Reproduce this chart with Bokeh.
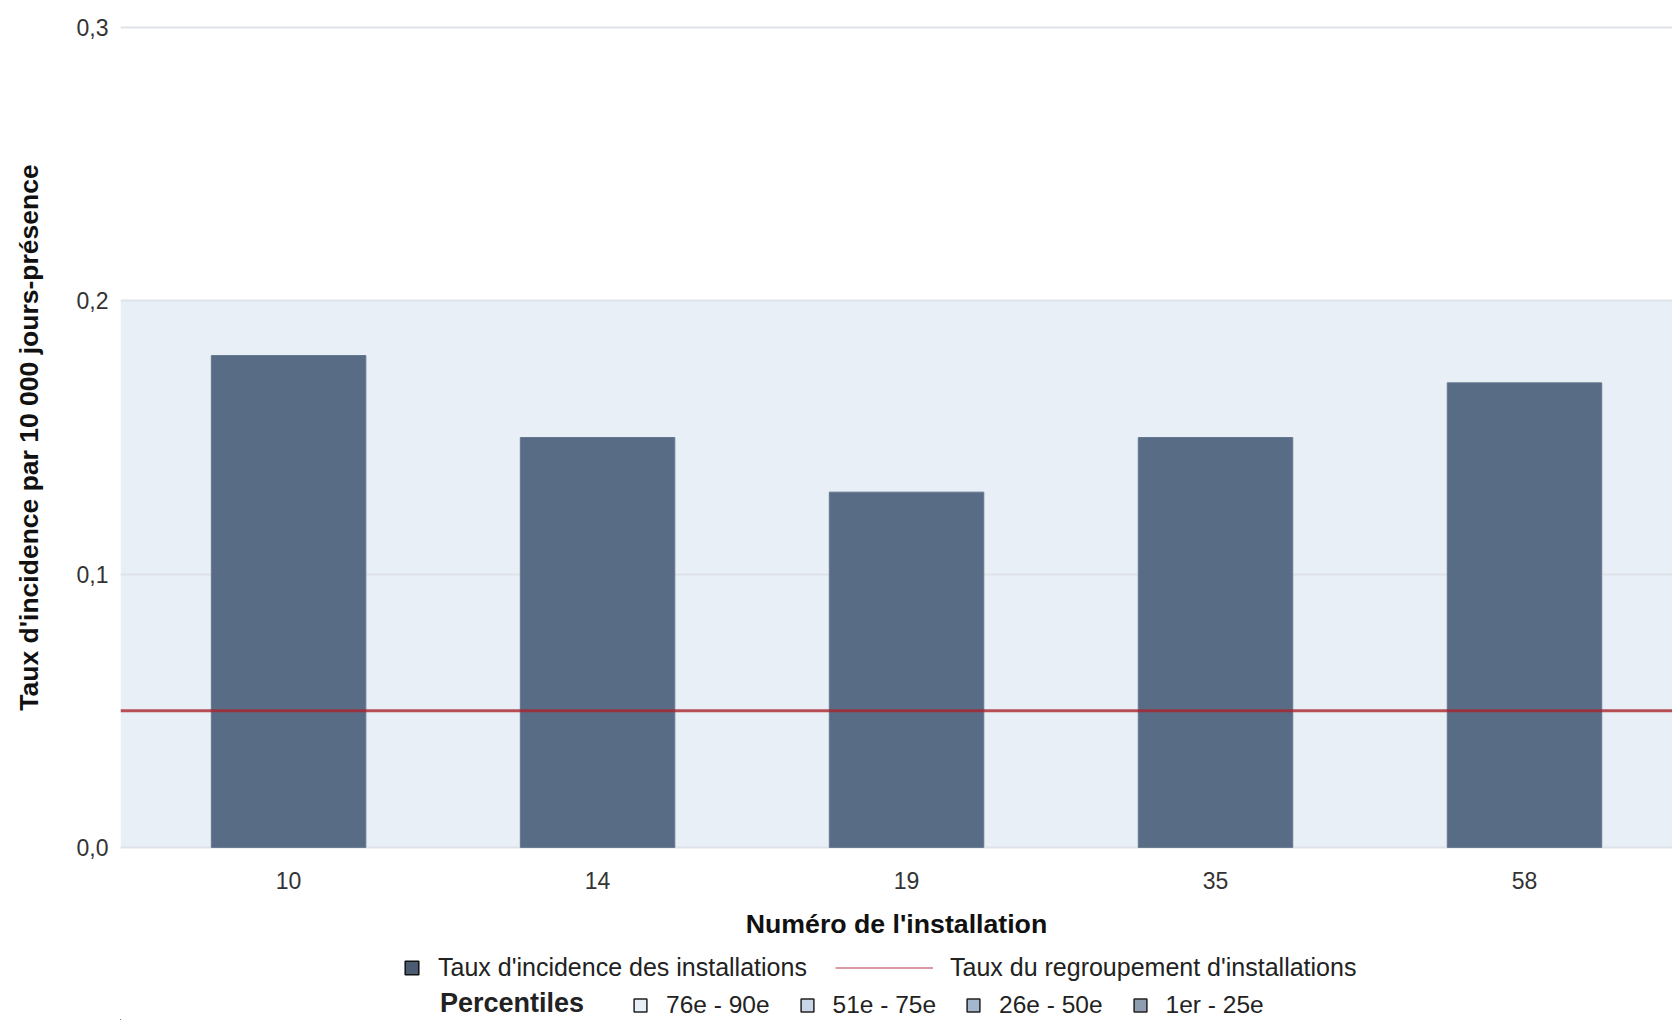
from bokeh.plotting import figure
from bokeh.layouts import column
from bokeh.models import (Range1d, FixedTicker, CustomJSTickFormatter, BoxAnnotation,
                          Span, Legend, LegendItem, ColumnDataSource)
from bokeh.embed import file_html
from bokeh.resources import INLINE

# ---- data ----
installations = ["10", "14", "19", "35", "58"]
taux_installations = [0.18, 0.15, 0.13, 0.15, 0.17]
taux_regroupement = 0.05
y_ticks = [0.0, 0.1, 0.2, 0.3]
percentile_labels = ["76e - 90e", "51e - 75e", "26e - 50e", "1er - 25e"]
percentile_colors = ["#E9EFF7", "#C9D6EA", "#A5B6D0", "#8F9DB2"]
band_lower = 0.0   # 76e - 90e percentile band
band_upper = 0.2

FONT = "Liberation Sans"
TXT = "#222222"
BAR = "#586C85"

x_idx = list(range(len(installations)))
src = ColumnDataSource(dict(x=x_idx, top=taux_installations, label=installations))

# ---------------- main chart ----------------
p = figure(width=1672, height=945, output_backend="svg", toolbar_location=None,
           x_range=Range1d(-0.544, 4.479), y_range=Range1d(-0.0015, 0.3015),
           min_border_left=120, min_border_right=0, min_border_top=23,
           min_border_bottom=94)
p.outline_line_color = None
p.background_fill_color = "white"
p.border_fill_color = "white"

band = BoxAnnotation(bottom=band_lower, top=band_upper, fill_color=percentile_colors[0],
                     fill_alpha=1, line_alpha=0, level="image")
p.add_layout(band)

bars = p.vbar(x="x", top="top", bottom=0, width=0.5, source=src,
              fill_color=BAR, line_color="#66788F", line_width=1)

span = Span(location=taux_regroupement, dimension="width", line_color="#A8262C",
            line_alpha=0.8, line_width=3)
p.add_layout(span)

p.xaxis.ticker = FixedTicker(ticks=x_idx)
p.xaxis.major_label_overrides = {i: c for i, c in zip(x_idx, installations)}
p.yaxis.ticker = FixedTicker(ticks=y_ticks)
p.yaxis.formatter = CustomJSTickFormatter(code="return tick.toFixed(1).replace('.', ',');")
for ax in (p.xaxis[0], p.yaxis[0]):
    ax.axis_line_color = None
    ax.major_tick_line_color = None
    ax.minor_tick_line_color = None
    ax.major_tick_out = 0
    ax.major_tick_in = 0
    ax.major_label_text_font = FONT
    ax.major_label_text_font_size = "23px"
    ax.major_label_text_color = "#333333"
    ax.axis_label_text_font = FONT
    ax.axis_label_text_font_style = "bold"
    ax.axis_label_text_color = "#111111"

p.xaxis.axis_label = "Numéro de l'installation"
p.xaxis.axis_label_text_font_size = "26.7px"
p.xaxis.major_label_standoff = 20
p.xaxis.axis_label_standoff = 17

p.yaxis.axis_label = "Taux d'incidence par 10 000 jours-présence"
p.yaxis.axis_label_text_font_size = "26.5px"
p.yaxis.major_label_standoff = 12
p.yaxis.axis_label_standoff = 30

p.xgrid.visible = False
p.ygrid.grid_line_color = "#DFE3E9"
p.ygrid.grid_line_width = 2

# ---------------- legend strip ----------------
# The strip's ranges lie away from the data, so its renderers only feed the legend.
lg = figure(width=1672, height=75, output_backend="svg", toolbar_location=None,
            x_range=Range1d(10, 11), y_range=Range1d(10, 11),
            x_axis_type=None, y_axis_type=None,
            min_border_left=0, min_border_right=0, min_border_top=0, min_border_bottom=0)
lg.outline_line_color = None
lg.background_fill_color = "white"
lg.border_fill_color = "white"
lg.grid.visible = False

line_src = ColumnDataSource(dict(x=x_idx, y=[taux_regroupement] * len(x_idx)))
pct_src = ColumnDataSource(dict(i=list(range(len(percentile_labels))),
                                label=percentile_labels, color=percentile_colors))

bar_leg = lg.vbar(x="x", top="top", width=0.5, source=src,
                  fill_color="#4B5B72", line_color="#111111", line_width=1.5)
line_leg = lg.line(x="x", y="y", source=line_src, line_color="#D99DA1", line_width=2)
title_r = lg.line(x="x", y="y", source=line_src, line_alpha=0)
pct_r = lg.vbar(x="i", top="i", width=0.5, source=pct_src,
                fill_color="color", line_color="#222222", line_width=1.5)

common = dict(orientation="horizontal", background_fill_alpha=0, border_line_alpha=0,
              padding=0, margin=0, label_text_font=FONT, label_text_font_size="25px",
              label_text_color=TXT, label_height=17, glyph_height=17, spacing=29,
              label_text_baseline="middle")
leg1 = Legend(items=[LegendItem(label="Taux d'incidence des installations", renderers=[bar_leg])],
              location=(283, 38), glyph_width=17, label_standoff=18, **common)
leg2 = Legend(items=[LegendItem(label="Taux du regroupement d'installations", renderers=[line_leg])],
              location=(715, 38), glyph_width=98, label_standoff=17, **common)
c3 = dict(common, label_text_font_size="27px", label_text_font_style="bold")
leg3 = Legend(items=[LegendItem(label="Percentiles", renderers=[title_r])],
              location=(320, 1), glyph_width=0, label_standoff=0, **c3)
c4 = dict(common, label_text_font_size="24.5px", glyph_height=16)
leg4 = Legend(items=[LegendItem(label=l, renderers=[pct_r], index=k)
                     for k, l in enumerate(percentile_labels)],
              location=(512, 1), glyph_width=16, label_standoff=18, **c4)
for L in (leg1, leg2, leg3, leg4):
    lg.add_layout(L, "center")

layout = column(p, lg, spacing=0)
open("out.html", "w").write(file_html(layout, INLINE))
